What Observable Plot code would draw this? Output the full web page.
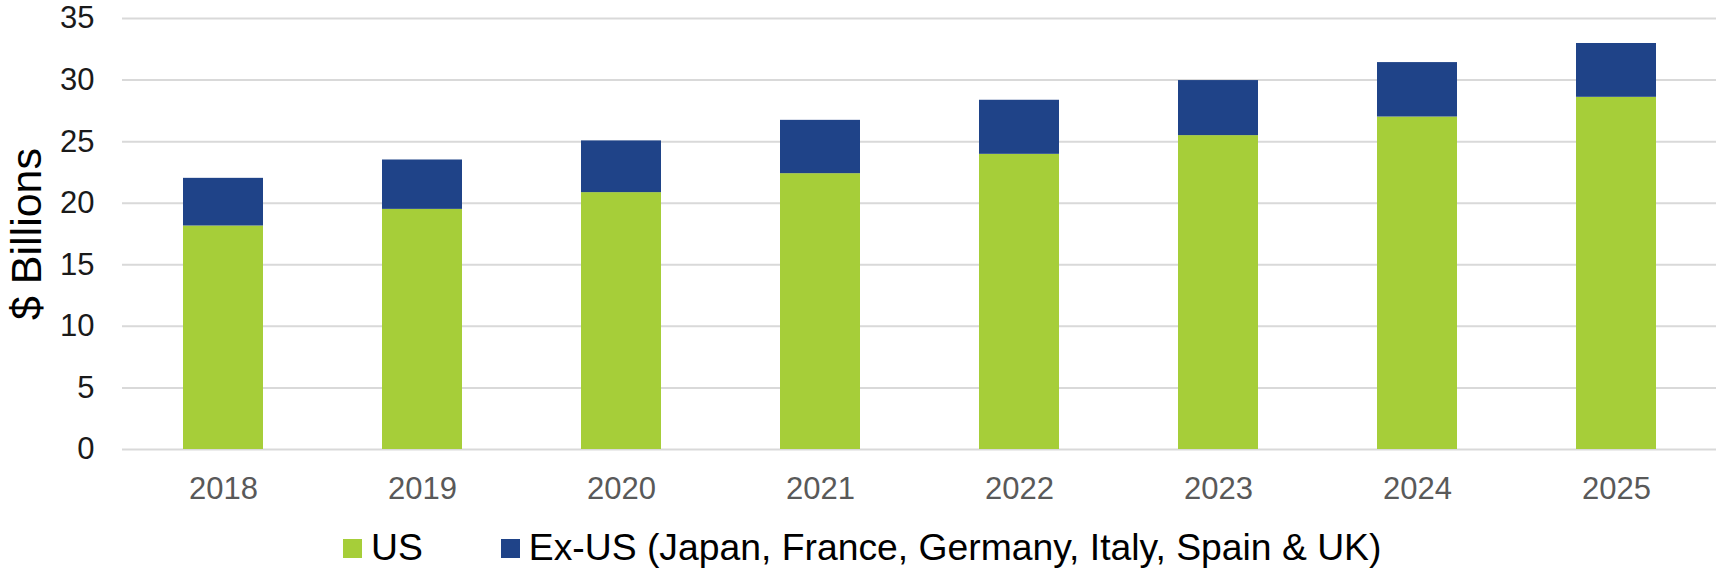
<!DOCTYPE html>
<html>
<head>
<meta charset="utf-8">
<script src="https://cdn.jsdelivr.net/npm/d3@7"></script>
<script src="https://cdn.jsdelivr.net/npm/@observablehq/plot@0.6"></script>
<style>
  html, body { margin: 0; padding: 0; background: #fff; }
  #wrap { position: relative; width: 1719px; height: 576px; font-family: "Liberation Sans", Arial, sans-serif; }
  #legend { position: absolute; left: 343px; top: 529px; display: flex; align-items: center; font-size: 37.3px; line-height: 37px; color: #000; white-space: nowrap; }
  .item { display: flex; align-items: center; }
  .sw { width: 19px; height: 19px; margin-top: 2px; margin-right: 9px; }
</style>
</head>
<body>
<div id="wrap"><div id="chart"></div><div id="legend"></div></div>
<script>
const years = ["2018", "2019", "2020", "2021", "2022", "2023", "2024", "2025"];
const usValues = [18.15, 19.5, 20.86, 22.4, 23.97, 25.49, 27.0, 28.6];
const exUsValues = [3.87, 4.01, 4.2, 4.33, 4.39, 4.47, 4.42, 4.37];
const seriesNames = ["US", "Ex-US (Japan, France, Germany, Italy, Spain & UK)"];
const seriesColors = ["#a6ce39", "#1f4388"];
const yTicks = [0, 5, 10, 15, 20, 25, 30, 35];
const yTitle = "$ Billions";

const data = years.flatMap((yr, i) => [
  {year: yr, series: seriesNames[0], value: usValues[i]},
  {year: yr, series: seriesNames[1], value: exUsValues[i]}
]);

const chart = Plot.plot({
  width: 1719,
  height: 515,
  marginLeft: 122,
  marginRight: 3,
  marginTop: 18,
  marginBottom: 66,
  style: {fontFamily: "'Liberation Sans', Arial, sans-serif", background: "white", overflow: "visible"},
  x: {domain: years, paddingInner: 0.6, paddingOuter: 0.3, label: null},
  y: {domain: [0, 35], ticks: yTicks, label: null},
  color: {domain: seriesNames, range: seriesColors},
  marks: [
    Plot.gridY(yTicks, {stroke: "#d9d9d9", strokeOpacity: 1, strokeWidth: 2}),
    Plot.barY(data, {x: "year", y: "value", fill: "series", order: seriesNames}),
    Plot.axisY(yTicks, {tickSize: 0, tickPadding: 28, fontSize: 31, fill: "#1a1a1a", label: null}),
    Plot.axisX({tickSize: 0, tickPadding: 27, fontSize: 31, fill: "#595959", label: null}),
    Plot.text([yTitle], {text: d => d, frameAnchor: "left", textAnchor: "middle", dx: -95, rotate: -90, fontSize: 43, fill: "#000"})
  ]
});
document.getElementById("chart").appendChild(chart);

const legend = document.getElementById("legend");
seriesNames.forEach((name, i) => {
  const item = document.createElement("div");
  item.className = "item";
  if (i > 0) item.style.marginLeft = "78px";
  const sw = document.createElement("div");
  sw.className = "sw";
  sw.style.background = seriesColors[i];
  const label = document.createElement("span");
  label.textContent = name;
  item.appendChild(sw);
  item.appendChild(label);
  legend.appendChild(item);
});
</script>
</body>
</html>
